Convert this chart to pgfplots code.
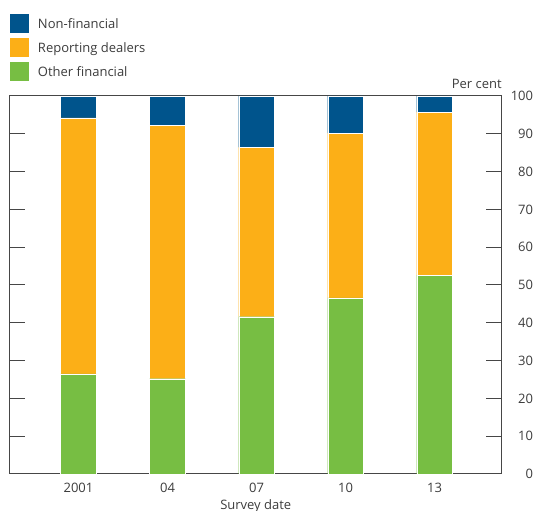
\documentclass[border=0pt]{standalone}
\usepackage{fontspec}
\setmainfont{Open Sans}
\usepackage{pgfplots}
\pgfplotsset{compat=1.18}
\definecolor{nfblue}{RGB}{0,84,140}
\definecolor{dorange}{RGB}{252,175,23}
\definecolor{ofgreen}{RGB}{119,190,67}
\definecolor{txt}{RGB}{60,60,60}
\definecolor{axc}{RGB}{70,70,70}
\begin{document}
\fontsize{13pt}{15.6pt}\selectfont
\begin{tikzpicture}
\path[use as bounding box] (-9.6pt,-37pt) rectangle (526.4pt,474pt);
\begin{axis}[
  at={(0pt,0pt)}, anchor=south west,
  scale only axis, width=492.3pt, height=378pt,
  ybar stacked, bar width=0.4,
  xmin=-0.774, xmax=4.757, ymin=0, ymax=100,
  clip=false,
  axis line style={axc, line width=1pt},
  xtick={0,1,2,3,4},
  xticklabels={2001,04,07,10,13},
  xtick style={draw=none},
  minor xtick={-0.5,0.5,1.5,2.5,3.5,4.5},
  minor tick length=14.3pt,
  xtick pos=left,
  ytick={0,10,...,100},
  major tick length=15.5pt,
  tick align=inside,
  ytick pos=both,
  yticklabel pos=right,
  tick style={axc, line width=1pt},
  minor tick style={axc, line width=1pt},
  /pgf/number format/assume math mode=true,
  ticklabel style={font=\fontsize{13pt}{15.6pt}\selectfont, text=txt},
  yticklabel style={anchor=east, inner sep=0pt, xshift=31.4pt},
  xticklabel style={anchor=base, inner sep=0pt, yshift=-18.7pt},
  xlabel={Survey date},
  xlabel style={at={(axis description cs:0.5,0)}, anchor=base, inner sep=0pt, yshift=-35.3pt, text=txt, font=\fontsize{13pt}{15.6pt}\selectfont},
  legend cell align=left,
  reverse legend,
  legend style={at={(axis description cs:0.0014,1.2169)}, anchor=north west, draw=none, fill=none, inner sep=0pt, outer sep=0pt,
    nodes={inner sep=0pt, text=txt, font=\fontsize{13pt}{15.6pt}\selectfont},
    /tikz/every even column/.append style={column sep=0pt},
    row sep=5pt},
  legend image code/.code={\fill[#1, draw=none] (0pt,-8.5pt) rectangle (19pt,10.5pt); \path (27.5pt,0pt);},
]
\addplot[fill=ofgreen, draw=white, line width=0.4pt] coordinates {(0,26.5) (1,25.2) (2,41.6) (3,46.6) (4,52.6)};
\addplot[fill=dorange, draw=white, line width=0.4pt] coordinates {(0,67.7) (1,67.0) (2,44.8) (3,43.6) (4,43.1)};
\addplot[fill=nfblue, draw=white, line width=0.4pt] coordinates {(0,5.8) (1,7.8) (2,13.6) (3,9.8) (4,4.3)};
\legend{Other financial, Reporting dealers, Non-financial}
\node[anchor=base east, inner sep=0pt, text=txt] at (rel axis cs:1,1) [yshift=7.7pt] {Per cent};
\end{axis}
\end{tikzpicture}
\end{document}
